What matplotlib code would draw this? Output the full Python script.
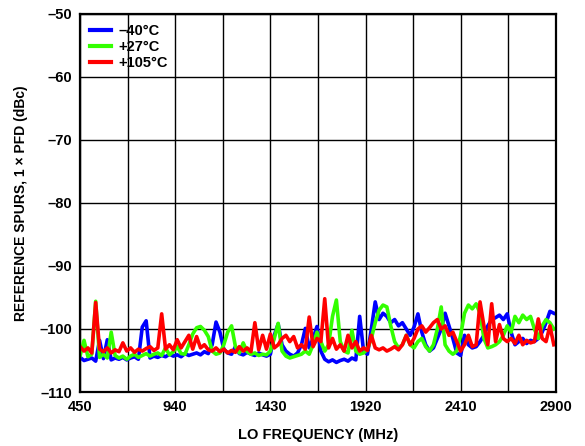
import numpy as np
import matplotlib.pyplot as plt
from matplotlib.ticker import MultipleLocator, FuncFormatter

plt.rcParams['font.family'] = ['Liberation Sans', 'DejaVu Sans']
plt.rcParams['font.weight'] = 'bold'

# LO frequency grid (MHz), 20 MHz steps
freq = np.arange(450, 2900, 20)

spur_m40 = [
    -104.5, -105.0, -104.8, -104.6, -105.1, -101.8, -104.7, -101.7, -104.9, -104.6,
    -104.8, -104.5, -104.9, -104.6, -104.4, -104.8, -99.7, -98.7, -104.6, -104.3,
    -104.5, -104.2, -104.4, -104.0, -104.3, -104.1, -104.4, -103.9, -104.2, -104.0,
    -103.8, -104.1, -103.6, -103.9, -102.5, -98.9, -100.5, -103.2, -103.8, -104.0,
    -102.8, -103.9, -104.1, -103.7, -104.0, -104.2, -103.8, -104.1, -104.3, -104.0,
    -101.0, -99.2, -102.5, -103.5, -104.0, -104.3, -103.8, -102.5, -99.9, -103.0,
    -101.5, -99.6, -103.5, -104.8, -105.2, -104.9, -105.3, -105.0, -104.8, -105.1,
    -104.6, -104.9, -98.0, -103.5, -104.0, -100.0, -95.7, -98.5, -97.5, -98.0,
    -99.0, -98.5, -99.5, -99.0, -100.0, -101.0, -99.7, -97.6, -100.5, -102.5,
    -103.5, -103.0, -101.5, -100.0, -97.5, -99.5, -101.5, -103.8, -104.2, -101.0,
    -102.5, -103.0, -102.8, -102.0, -101.0, -99.5, -98.5, -98.2, -97.8, -98.5,
    -97.6, -100.5, -102.5, -102.0, -101.5, -102.3, -101.8, -102.0, -101.5, -100.5,
    -99.0, -97.2, -97.5,
]

spur_p27 = [
    -104.2, -101.8, -104.4, -104.0, -95.6, -104.5, -104.0, -104.6, -100.5, -104.2,
    -104.6, -104.3, -104.8, -104.3, -104.0, -104.5, -104.2, -103.9, -104.3, -104.0,
    -103.8, -104.2, -103.0, -104.1, -103.6, -102.8, -103.9, -104.0, -102.5, -100.8,
    -99.8, -99.6, -100.2, -101.2, -103.5, -104.0, -103.8, -102.5, -100.5, -99.5,
    -102.8, -103.8, -102.2, -103.6, -104.0, -103.8, -104.2, -104.0, -104.1, -103.5,
    -101.5, -99.1, -103.5, -104.3, -104.6, -104.4, -104.2, -104.0, -103.5, -104.0,
    -102.5, -100.5, -102.0, -103.5, -102.5, -98.0, -95.4, -102.0, -103.5, -103.8,
    -100.2, -103.5, -104.0, -103.8, -103.2, -101.5, -99.0, -97.0, -96.2, -96.5,
    -99.5, -102.0, -103.0, -102.5, -101.0, -102.5, -103.0, -102.0, -101.5, -102.8,
    -103.5, -102.5, -100.0, -96.5, -102.5, -103.5, -104.0, -103.5, -101.0, -97.5,
    -96.2, -96.8, -96.0, -97.5, -101.5, -103.0, -102.8, -102.5, -102.0, -101.0,
    -99.5, -100.5, -98.0, -99.0, -97.8, -98.5, -98.0, -100.0, -101.5, -99.5,
    -98.5, -99.0, -100.0,
]

spur_p105 = [
    -102.8, -103.5, -103.0, -103.8, -95.8, -103.2, -103.6, -103.0, -103.8, -103.3,
    -103.6, -102.2, -103.5, -103.0, -103.7, -103.2, -103.5, -103.1, -102.8, -103.4,
    -103.0, -97.6, -103.2, -102.5, -103.3, -101.7, -103.0, -102.0, -101.0, -103.2,
    -101.2, -103.0, -102.5, -103.3, -103.5, -103.0, -103.6, -103.2, -103.8, -103.4,
    -103.7, -102.8, -103.5, -103.0, -103.6, -99.0, -103.3, -101.0, -103.2, -100.8,
    -103.0, -102.5, -101.5, -101.0, -102.0, -101.2, -103.0, -102.5, -103.2, -98.1,
    -102.8, -101.5, -102.0, -95.2, -103.0, -101.5, -103.2, -102.5, -103.5, -101.0,
    -103.0, -102.0, -103.5, -103.0, -103.4, -101.0, -103.0, -103.3, -103.0, -103.5,
    -103.2, -102.8, -103.3, -102.5, -101.0, -102.5, -101.5, -100.0, -99.5, -100.5,
    -99.8, -99.0, -98.5, -100.0, -99.5, -101.0, -100.5, -102.0, -103.5, -102.5,
    -101.0, -102.8, -102.5, -95.7, -99.5, -102.5, -96.0, -102.0, -99.3, -101.5,
    -102.0, -101.5, -102.3, -101.0, -102.5, -101.8, -102.2, -102.0, -98.4, -101.5,
    -102.0, -99.5, -102.5,
]

labels = ['\u201340\u00b0C', '+27\u00b0C', '+105\u00b0C']
colors = ['#0000ff', '#33ff00', '#ff0000']
xticks = [450, 940, 1430, 1920, 2410, 2900]

fig = plt.figure(figsize=(5.85, 4.46), dpi=100)
ax = fig.add_axes([0.137, 0.121, 0.813, 0.848])

for y, lab, c in zip([spur_m40, spur_p27, spur_p105], labels, colors):
    ax.plot(freq, y, color=c, lw=2.6, label=lab)

ax.set_xlim(450, 2900)
ax.set_ylim(-110, -50)
ax.set_xticks(xticks)
ax.set_xticks(np.arange(450, 2901, 245), minor=True)
ax.yaxis.set_major_locator(MultipleLocator(10))
ax.yaxis.set_major_formatter(FuncFormatter(lambda v, p: ('%d' % v).replace('-', '\u2013')))
ax.grid(True, which='both', axis='x', color='black', lw=1.0)
ax.grid(True, which='major', axis='y', color='black', lw=1.0)
ax.tick_params(which='both', length=0, labelsize=10.5, pad=6)
for lab in ax.get_xticklabels() + ax.get_yticklabels():
    lab.set_fontweight('bold')
for s in ax.spines.values():
    s.set_linewidth(1.6)

ax.set_xlabel('LO FREQUENCY (MHz)', fontsize=10.5, fontweight='bold', labelpad=10)
ax.set_ylabel('REFERENCE SPURS, 1 \u00d7 PFD (dBc)', fontsize=10, fontweight='bold', labelpad=8)

leg = ax.legend(loc='upper left', frameon=False, fontsize=10.5, handlelength=1.4,
                handletextpad=0.5, labelspacing=0.15, borderaxespad=0.3)
for t in leg.get_texts():
    t.set_fontweight('bold')
for h in leg.get_lines():
    h.set_linewidth(3)

fig.savefig('out.png', dpi=100)
